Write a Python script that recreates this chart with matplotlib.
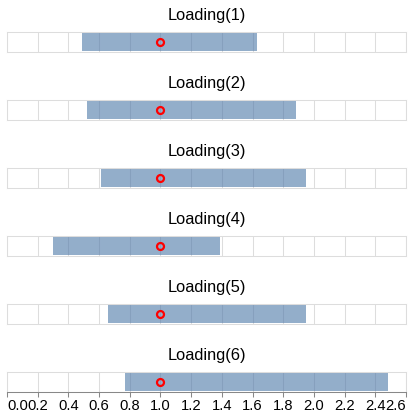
import matplotlib; matplotlib.use('Agg')
import matplotlib.pyplot as plt
import numpy as np

plt.rcParams['font.family'] = ['Liberation Sans', 'DejaVu Sans']

LABELS   = ['Loading(1)','Loading(2)','Loading(3)','Loading(4)','Loading(5)','Loading(6)']
LOWER    = [0.49, 0.52, 0.61, 0.30, 0.66, 0.77]
UPPER    = [1.63, 1.88, 1.95, 1.39, 1.95, 2.48]
ESTIMATE = [1.0, 1.0, 1.0, 1.0, 1.0, 1.0]
TICKS    = np.round(np.arange(0, 2.61, 0.2), 1)

W, H = 412, 419
fig = plt.figure(figsize=(W/100, H/100), dpi=100)

x0, x1 = 7, 406
for i, lab in enumerate(LABELS):
    top = 32.3 + 68*i
    ax = fig.add_axes([x0/W, (H-top-20)/H, (x1-x0)/W, 20/H])
    ax.set_xlim(0, 2.6); ax.set_ylim(0, 1)
    ax.set_xticks(TICKS)
    ax.grid(True, axis='x', color='#dddddd', linewidth=0.75)
    for s in ax.spines.values(): s.set_color('#dddddd'); s.set_linewidth(0.75)
    ax.set_yticks([])
    ax.barh(0.525, UPPER[i]-LOWER[i], left=LOWER[i], height=0.95, color='#4c78a8', alpha=0.6, zorder=2)
    ax.plot([ESTIMATE[i]], [0.5], 'o', mfc='none', mec='#ff0000', ms=5, mew=1.6, zorder=3)
    ax.text(0.5, 1 + 12/20, lab, transform=ax.transAxes, ha='center', va='baseline',
            fontsize=11.8, color='black')
    if i == len(LABELS)-1:
        ax.spines['bottom'].set_color('#888888')
        ax.tick_params(axis='x', length=3.6, width=0.75, color='#888888', pad=1.5)
        lbls = ax.set_xticklabels([f'{t:.1f}' for t in TICKS], fontsize=10.6)
        lbls[0].set_ha('left'); lbls[-1].set_ha('right')
    else:
        ax.tick_params(axis='x', length=0, labelbottom=False)

fig.savefig('out.png', dpi=100)
